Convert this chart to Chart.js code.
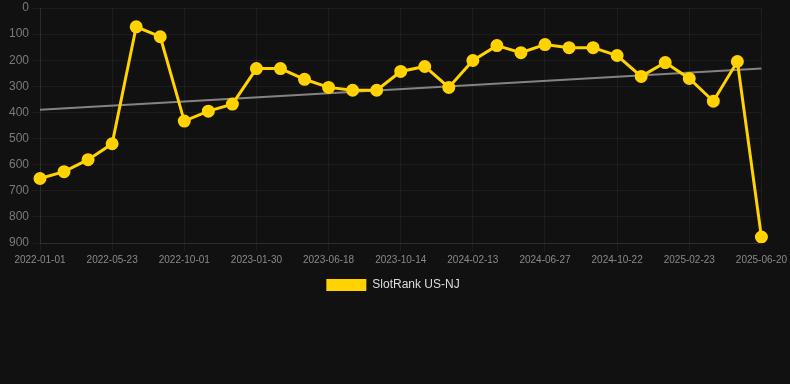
<!DOCTYPE html>
<html>
<head>
<meta charset="utf-8">
<script src="https://cdn.jsdelivr.net/npm/chart.js@4/dist/chart.umd.min.js"></script>
<style>
  html, body { margin: 0; padding: 0; background: #111111; }
  #wrap { width: 790px; height: 301px; position: relative; }
</style>
</head>
<body>
<div id="wrap"><canvas id="c"></canvas></div>
<script>
const categories = ["2022-01-01","2022-02-17","2022-04-05","2022-05-23","2022-07-06","2022-08-19","2022-10-01","2022-11-10","2022-12-21","2023-01-30","2023-03-17","2023-05-02","2023-06-18","2023-07-27","2023-09-05","2023-10-14","2023-11-24","2024-01-03","2024-02-13","2024-03-28","2024-05-13","2024-06-27","2024-08-04","2024-09-13","2024-10-22","2024-12-03","2025-01-13","2025-02-23","2025-04-01","2025-05-11","2025-06-20"];
const rankValues = [653,627,581,520,72,110,433,395,368,232,232,273,304,315,315,243,224,304,201,144,171,140,152,152,182,262,209,270,357,205,877];
const trendStart = 390;
const trendEnd = 232;
const yTicks = [0,100,200,300,400,500,600,700,800,900];

const trendData = categories.map((_, i) => i === 0 ? trendStart : (i === categories.length - 1 ? trendEnd : null));

new Chart(document.getElementById('c'), {
  type: 'line',
  data: {
    labels: categories,
    datasets: [
      {
        label: 'SlotRank US-NJ',
        data: rankValues,
        borderColor: '#FFD200',
        backgroundColor: '#FFD200',
        borderWidth: 3,
        pointRadius: 5,
        pointHoverRadius: 5,
        pointBackgroundColor: '#FFD200',
        pointBorderColor: '#FFD200',
        tension: 0
      },
      {
        label: 'trend',
        data: trendData,
        spanGaps: true,
        borderColor: 'rgba(160,160,160,0.8)',
        borderWidth: 2,
        pointRadius: 0,
        tension: 0
      }
    ]
  },
  options: {
    responsive: true,
    maintainAspectRatio: false,
    animation: false,
    layout: { padding: { left: 0, right: 4, top: 0, bottom: 0 } },
    plugins: {
      legend: {
        position: 'bottom',
        labels: {
          color: '#dddddd',
          font: { family: 'Liberation Sans, Arial, sans-serif', size: 12 },
          boxWidth: 40,
          boxHeight: 12,
          generateLabels: (chart) => Chart.defaults.plugins.legend.labels.generateLabels(chart)
            .filter(it => it.datasetIndex === 0)
            .map(it => Object.assign(it, { lineWidth: 0 }))
        }
      },
      tooltip: { enabled: false }
    },
    scales: {
      x: {
        afterBuildTicks: (axis) => { axis.ticks = axis.ticks.filter((t, i) => i % 3 === 0); },
        grid: { color: 'rgba(255,255,255,0.05)', drawTicks: true },
        border: { color: 'rgba(255,255,255,0.08)' },
        ticks: {
          color: '#8a8a8a',
          font: { family: 'Liberation Sans, Arial, sans-serif', size: 10 },
          autoSkip: false,
          maxRotation: 0,
          callback: function(val) { return this.getLabelForValue(val); }
        }
      },
      y: {
        reverse: true,
        min: 0,
        max: 900,
        afterBuildTicks: (axis) => { axis.ticks = yTicks.map(v => ({ value: v })); },
        afterFit: (axis) => { axis.width = 40; },
        grid: { color: 'rgba(255,255,255,0.05)' },
        border: { color: 'rgba(255,255,255,0.08)' },
        ticks: {
          color: '#7a7a7a',
          font: { family: 'Liberation Sans, Arial, sans-serif', size: 12, lineHeight: 0.7 },
          padding: 3
        }
      }
    }
  }
});
</script>
</body>
</html>
